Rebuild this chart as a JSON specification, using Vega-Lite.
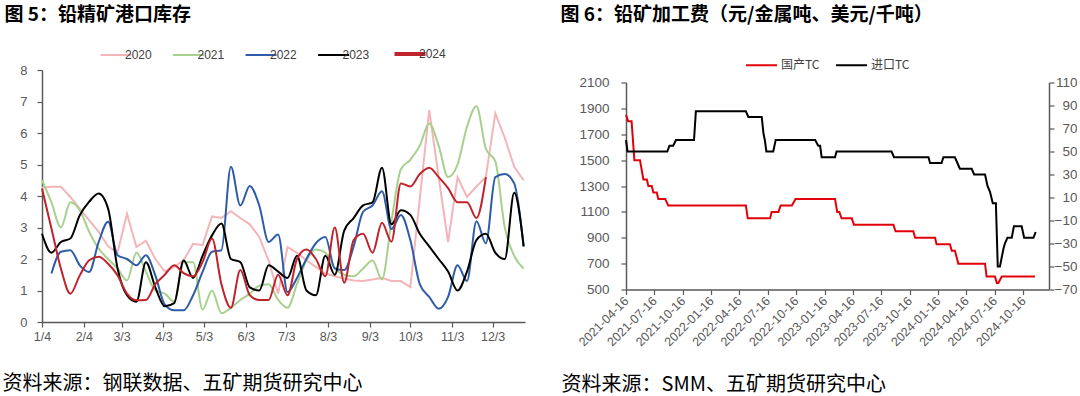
{
  "$schema": "https://vega.github.io/schema/vega-lite/v6.json",
  "padding": {"left": 2, "top": 5, "right": 0, "bottom": 0},
  "spacing": 32,
  "center": true,
  "resolve": {"scale": {"color": "independent"}, "legend": {"color": "independent"}},
  "config": {
    "view": {"stroke": null},
    "font": "Liberation Sans",
    "axis": {
      "grid": false,
      "domainColor": "#595959",
      "tickColor": "#595959",
      "domainWidth": 1.5,
      "tickWidth": 1.2,
      "tickSize": 5,
      "labelColor": "#595959",
      "labelFont": "Liberation Sans",
      "labelFontSize": 12.5,
      "titleFont": "Noto Sans CJK SC",
      "titleColor": "#000000"
    },
    "legend": {
      "labelFont": "Liberation Sans",
      "labelFontSize": 12,
      "labelColor": "#404040",
      "symbolType": "stroke",
      "symbolSize": 961,
      "symbolStrokeWidth": 2,
      "labelOffset": 3,
      "columnPadding": 16.5,
      "padding": 0
    }
  },
  "hconcat": [
    {
      "width": 483,
      "height": 252,
      "data": {
        "values": [
          {"d": "2024-01-04", "2020": 4.26, "2021": 4.5, "2022": null, "2023": 2.8, "2024": 4.24},
          {"d": "2024-01-11", "2020": 4.29, "2021": 3.8, "2022": 1.54, "2023": 2.2, "2024": 2.97},
          {"d": "2024-01-18", "2020": 4.29, "2021": 3.0, "2022": 2.23, "2023": 2.54, "2024": 1.7},
          {"d": "2024-01-25", "2020": 3.97, "2021": 3.8, "2022": 2.28, "2023": 2.65, "2024": 0.9},
          {"d": "2024-02-01", "2020": 3.6, "2021": 3.55, "2022": 1.8, "2023": 3.39, "2024": 1.48},
          {"d": "2024-02-08", "2020": 3.23, "2021": 2.86, "2022": 1.59, "2023": 3.82, "2024": 1.96},
          {"d": "2024-02-15", "2020": 2.86, "2021": 2.33, "2022": 2.54, "2023": 4.08, "2024": 2.07},
          {"d": "2024-02-22", "2020": 2.4, "2021": 2.0, "2022": 3.18, "2023": 3.6, "2024": 1.85},
          {"d": "2024-02-29", "2020": 2.2, "2021": 1.7, "2022": 2.12, "2023": 1.7, "2024": 1.48},
          {"d": "2024-03-07", "2020": 3.44, "2021": 1.32, "2022": 2.0, "2023": 0.85, "2024": 0.9},
          {"d": "2024-03-14", "2020": 2.38, "2021": 2.2, "2022": 1.8, "2023": 0.64, "2024": 0.69},
          {"d": "2024-03-21", "2020": 2.58, "2021": 1.6, "2022": 2.12, "2023": 1.9, "2024": 0.7},
          {"d": "2024-03-28", "2020": 2.0, "2021": 1.0, "2022": 1.48, "2023": 1.1, "2024": 1.2},
          {"d": "2024-04-04", "2020": 1.6, "2021": 0.9, "2022": 0.55, "2023": 0.5, "2024": 1.5},
          {"d": "2024-04-11", "2020": 1.75, "2021": 0.65, "2022": 0.37, "2023": 0.6, "2024": 1.8},
          {"d": "2024-04-18", "2020": 1.96, "2021": 1.9, "2022": 0.37, "2023": 1.95, "2024": 1.55},
          {"d": "2024-04-25", "2020": 2.48, "2021": 1.9, "2022": 0.85, "2023": 1.4, "2024": 1.45},
          {"d": "2024-05-02", "2020": 2.44, "2021": 0.4, "2022": 1.59, "2023": 2.1, "2024": 1.9},
          {"d": "2024-05-09", "2020": 3.35, "2021": 1.0, "2022": 2.23, "2023": 2.75, "2024": 2.65},
          {"d": "2024-05-16", "2020": 3.3, "2021": 0.28, "2022": 2.28, "2023": 3.13, "2024": 1.2},
          {"d": "2024-05-23", "2020": 3.52, "2021": 0.45, "2022": 4.93, "2023": 2.0, "2024": 0.45},
          {"d": "2024-05-30", "2020": 3.3, "2021": 0.7, "2022": 3.7, "2023": 1.9, "2024": 1.65},
          {"d": "2024-06-06", "2020": 3.1, "2021": 0.9, "2022": 4.32, "2023": 1.1, "2024": 0.85},
          {"d": "2024-06-13", "2020": 2.7, "2021": 1.15, "2022": 3.7, "2023": 1.0, "2024": 0.7},
          {"d": "2024-06-20", "2020": 1.95, "2021": 1.2, "2022": 2.54, "2023": 1.8, "2024": 0.7},
          {"d": "2024-06-27", "2020": 0.9, "2021": 0.7, "2022": 2.78, "2023": 1.6, "2024": 1.5},
          {"d": "2024-07-04", "2020": 2.38, "2021": 0.45, "2022": 0.95, "2023": 1.4, "2024": 0.85},
          {"d": "2024-07-11", "2020": 2.2, "2021": 1.2, "2022": 1.4, "2023": 2.1, "2024": 2.0},
          {"d": "2024-07-18", "2020": 1.96, "2021": 1.95, "2022": 2.0, "2023": 1.0, "2024": 2.3},
          {"d": "2024-07-25", "2020": 1.75, "2021": 2.3, "2022": 2.5, "2023": 0.85, "2024": 2.0},
          {"d": "2024-08-01", "2020": 1.54, "2021": 2.2, "2022": 2.7, "2023": 2.1, "2024": 1.45},
          {"d": "2024-08-08", "2020": 1.45, "2021": 1.7, "2022": 1.7, "2023": 1.5, "2024": 3.0},
          {"d": "2024-08-15", "2020": 1.38, "2021": 1.5, "2022": 1.65, "2023": 2.9, "2024": 1.25},
          {"d": "2024-08-22", "2020": 1.32, "2021": 1.45, "2022": 2.4, "2023": 3.3, "2024": 2.6},
          {"d": "2024-08-29", "2020": 1.3, "2021": 1.7, "2022": 3.5, "2023": 3.7, "2024": 2.8},
          {"d": "2024-09-05", "2020": 1.35, "2021": 1.95, "2022": 3.7, "2023": 3.8, "2024": 2.2},
          {"d": "2024-09-12", "2020": 1.4, "2021": 1.35, "2022": 4.15, "2023": 4.9, "2024": 3.15},
          {"d": "2024-09-19", "2020": 1.3, "2021": 3.2, "2022": 2.95, "2023": 3.1, "2024": 2.55},
          {"d": "2024-09-26", "2020": 1.3, "2021": 4.85, "2022": 3.4, "2023": 3.55, "2024": 4.4},
          {"d": "2024-10-03", "2020": 1.11, "2021": 5.15, "2022": 2.6, "2023": 3.4, "2024": 4.3},
          {"d": "2024-10-10", "2020": 3.9, "2021": 5.6, "2022": 1.2, "2023": 2.8, "2024": 4.7},
          {"d": "2024-10-17", "2020": 6.73, "2021": 6.3, "2022": 0.8, "2023": 2.4, "2024": 4.9},
          {"d": "2024-10-24", "2020": 4.6, "2021": 5.6, "2022": 0.42, "2023": 2.0, "2024": 4.6},
          {"d": "2024-10-31", "2020": 2.54, "2021": 4.6, "2022": 0.8, "2023": 1.6, "2024": 4.25},
          {"d": "2024-11-07", "2020": 4.6, "2021": 5.0, "2022": 1.8, "2023": 1.0, "2024": 3.8},
          {"d": "2024-11-14", "2020": 3.97, "2021": 6.2, "2022": 1.3, "2023": 1.6, "2024": 3.8},
          {"d": "2024-11-21", "2020": 4.3, "2021": 6.85, "2022": 3.2, "2023": 2.6, "2024": 3.3},
          {"d": "2024-11-28", "2020": 4.6, "2021": 5.5, "2022": 2.5, "2023": 2.8, "2024": 4.6},
          {"d": "2024-12-05", "2020": 6.62, "2021": 5.1, "2022": 4.6, "2023": 2.2, "2024": null},
          {"d": "2024-12-12", "2020": 5.85, "2021": 3.0, "2022": 4.7, "2023": 2.0, "2024": null},
          {"d": "2024-12-19", "2020": 4.93, "2021": 2.1, "2022": 4.4, "2023": 4.1, "2024": null},
          {"d": "2024-12-26", "2020": 4.5, "2021": 1.7, "2022": 2.4, "2023": 2.4, "2024": null}
        ]
      },
      "transform": [{"fold": ["2020", "2021", "2022", "2023", "2024"], "as": ["year", "v"]}],
      "encoding": {
        "x": {
          "field": "d", "type": "temporal",
          "scale": {"type": "utc", "domain": [{"year": 2024, "month": 1, "date": 4, "utc": true}, {"year": 2024, "month": 12, "date": 27, "utc": true}]},
          "axis": {
            "format": "%-m/%-d",
            "values": [
              {"year": 2024, "month": 1, "date": 4, "utc": true},
              {"year": 2024, "month": 2, "date": 4, "utc": true},
              {"year": 2024, "month": 3, "date": 3, "utc": true},
              {"year": 2024, "month": 4, "date": 3, "utc": true},
              {"year": 2024, "month": 5, "date": 3, "utc": true},
              {"year": 2024, "month": 6, "date": 3, "utc": true},
              {"year": 2024, "month": 7, "date": 3, "utc": true},
              {"year": 2024, "month": 8, "date": 3, "utc": true},
              {"year": 2024, "month": 9, "date": 3, "utc": true},
              {"year": 2024, "month": 10, "date": 3, "utc": true},
              {"year": 2024, "month": 11, "date": 3, "utc": true},
              {"year": 2024, "month": 12, "date": 3, "utc": true}
            ],
            "labelFlush": false,
            "labelOverlap": false,
            "labelPadding": 3,
            "title": ["资料来源：钢联数据、五矿期货研究中心", " "],
            "titleX": -40,
            "titleY": 51,
            "titleAlign": "left",
            "titleBaseline": "top",
            "titleLineHeight": 14,
            "titleAngle": 0,
            "titleFontSize": 20,
            "titleFontWeight": "normal"
          }
        },
        "y": {
          "field": "v", "type": "quantitative",
          "scale": {"domain": [0, 8], "nice": false},
          "axis": {
            "values": [0, 1, 2, 3, 4, 5, 6, 7, 8],
            "labelPadding": 10,
            "labelFontSize": 13,
            "title": "图 5：铅精矿港口库存",
            "titleX": -38,
            "titleY": -56,
            "titleAlign": "left",
            "titleBaseline": "middle",
            "titleAngle": 0,
            "titleFontSize": 19,
            "titleFontWeight": "bold"
          }
        },
        "color": {
          "field": "year", "type": "nominal",
          "scale": {"domain": ["2020", "2021", "2022", "2023", "2024"], "range": ["#f4b5b9", "#a8d08d", "#2e5ca8", "#000000", "#c0232b"]},
          "legend": {
            "title": null, "orient": "none", "direction": "horizontal", "legendX": 68, "legendY": -22,
            "encode": {"symbols": {"update": {"strokeWidth": {"signal": "datum.value === '2024' ? 4 : 2"}}}}
          }
        },
        "strokeWidth": {
          "field": "year", "type": "nominal",
          "scale": {"domain": ["2020", "2021", "2022", "2023", "2024"], "range": [2, 2, 2, 2, 3.5]},
          "legend": null
        }
      },
      "layer": [
        {"transform": [{"filter": "datum.year === '2020'"}], "mark": {"type": "line", "interpolate": "linear"}},
        {"transform": [{"filter": "datum.year !== '2020'"}], "mark": {"type": "line", "interpolate": "monotone"}}
      ]
    },
    {
      "width": 423,
      "height": 207,
      "encoding": {
        "x": {
          "field": "d", "type": "temporal",
          "scale": {"type": "utc", "domain": [{"year": 2021, "month": 4, "date": 16, "utc": true}, {"year": 2025, "month": 1, "date": 7, "utc": true}]},
          "axis": {
            "format": "%Y-%m-%d",
            "values": [
              {"year": 2021, "month": 4, "date": 16, "utc": true},
              {"year": 2021, "month": 7, "date": 16, "utc": true},
              {"year": 2021, "month": 10, "date": 16, "utc": true},
              {"year": 2022, "month": 1, "date": 16, "utc": true},
              {"year": 2022, "month": 4, "date": 16, "utc": true},
              {"year": 2022, "month": 7, "date": 16, "utc": true},
              {"year": 2022, "month": 10, "date": 16, "utc": true},
              {"year": 2023, "month": 1, "date": 16, "utc": true},
              {"year": 2023, "month": 4, "date": 16, "utc": true},
              {"year": 2023, "month": 7, "date": 16, "utc": true},
              {"year": 2023, "month": 10, "date": 16, "utc": true},
              {"year": 2024, "month": 1, "date": 16, "utc": true},
              {"year": 2024, "month": 4, "date": 16, "utc": true},
              {"year": 2024, "month": 7, "date": 16, "utc": true},
              {"year": 2024, "month": 10, "date": 16, "utc": true}
            ],
            "labelAngle": -45,
            "labelAlign": "right",
            "labelBaseline": "middle",
            "labelFlush": false,
            "labelOverlap": false,
            "labelPadding": 4,
            "labelFontSize": 12.5,
            "title": "资料来源：SMM、五矿期货研究中心",
            "titleX": -65,
            "titleY": 95,
            "titleAlign": "left",
            "titleBaseline": "middle",
            "titleAngle": 0,
            "titleFontSize": 20,
            "titleFontWeight": "normal"
          }
        },
        "color": {
          "field": "s", "type": "nominal",
          "scale": {"domain": ["国产TC", "进口TC"], "range": ["#e3000b", "#000000"]},
          "legend": {"title": null, "orient": "none", "direction": "horizontal", "legendX": 119, "legendY": -34, "labelFont": "Noto Sans CJK SC", "columnPadding": 12}
        }
      },
      "layer": [
        {
          "data": {
            "values": [
              {"d": "2021-04-16", "s": "国产TC", "v": 1850},
              {"d": "2021-04-23", "s": "国产TC", "v": 1800},
              {"d": "2021-05-04", "s": "国产TC", "v": 1800},
              {"d": "2021-05-13", "s": "国产TC", "v": 1500},
              {"d": "2021-05-31", "s": "国产TC", "v": 1500},
              {"d": "2021-06-11", "s": "国产TC", "v": 1350},
              {"d": "2021-06-22", "s": "国产TC", "v": 1350},
              {"d": "2021-06-27", "s": "国产TC", "v": 1300},
              {"d": "2021-07-08", "s": "国产TC", "v": 1300},
              {"d": "2021-07-13", "s": "国产TC", "v": 1250},
              {"d": "2021-07-24", "s": "国产TC", "v": 1250},
              {"d": "2021-07-29", "s": "国产TC", "v": 1200},
              {"d": "2021-08-20", "s": "国产TC", "v": 1200},
              {"d": "2021-08-30", "s": "国产TC", "v": 1150},
              {"d": "2022-05-07", "s": "国产TC", "v": 1150},
              {"d": "2022-05-13", "s": "国产TC", "v": 1050},
              {"d": "2022-07-24", "s": "国产TC", "v": 1050},
              {"d": "2022-07-29", "s": "国产TC", "v": 1100},
              {"d": "2022-08-20", "s": "国产TC", "v": 1100},
              {"d": "2022-08-27", "s": "国产TC", "v": 1150},
              {"d": "2022-10-02", "s": "国产TC", "v": 1150},
              {"d": "2022-10-14", "s": "国产TC", "v": 1200},
              {"d": "2023-02-18", "s": "国产TC", "v": 1200},
              {"d": "2023-02-25", "s": "国产TC", "v": 1100},
              {"d": "2023-03-04", "s": "国产TC", "v": 1100},
              {"d": "2023-03-11", "s": "国产TC", "v": 1050},
              {"d": "2023-04-13", "s": "国产TC", "v": 1050},
              {"d": "2023-04-20", "s": "国产TC", "v": 1000},
              {"d": "2023-08-25", "s": "国产TC", "v": 1000},
              {"d": "2023-09-01", "s": "国产TC", "v": 950},
              {"d": "2023-10-28", "s": "国产TC", "v": 950},
              {"d": "2023-11-03", "s": "国产TC", "v": 900},
              {"d": "2024-01-06", "s": "国产TC", "v": 900},
              {"d": "2024-01-11", "s": "国产TC", "v": 850},
              {"d": "2024-02-23", "s": "国产TC", "v": 850},
              {"d": "2024-02-29", "s": "国产TC", "v": 800},
              {"d": "2024-03-10", "s": "国产TC", "v": 800},
              {"d": "2024-03-21", "s": "国产TC", "v": 700},
              {"d": "2024-06-15", "s": "国产TC", "v": 700},
              {"d": "2024-06-20", "s": "国产TC", "v": 600},
              {"d": "2024-07-17", "s": "国产TC", "v": 600},
              {"d": "2024-07-23", "s": "国产TC", "v": 550},
              {"d": "2024-07-28", "s": "国产TC", "v": 550},
              {"d": "2024-08-08", "s": "国产TC", "v": 600},
              {"d": "2024-11-23", "s": "国产TC", "v": 600}
            ]
          },
          "mark": {"type": "line", "strokeWidth": 2},
          "encoding": {
            "y": {
              "field": "v", "type": "quantitative",
              "scale": {"domain": [500, 2100], "nice": false},
              "axis": {
                "values": [500, 700, 900, 1100, 1300, 1500, 1700, 1900, 2100],
                "format": "d",
                "labelPadding": 12,
                "labelFontSize": 13.5,
                "title": "图 6：铅矿加工费（元/金属吨、美元/千吨）",
                "titleX": -66,
                "titleY": -68,
                "titleAlign": "left",
                "titleBaseline": "middle",
                "titleAngle": 0,
                "titleFontSize": 19,
                "titleFontWeight": "bold"
              }
            }
          }
        },
        {
          "data": {
            "values": [
              {"d": "2021-04-16", "s": "进口TC", "v": 60},
              {"d": "2021-04-21", "s": "进口TC", "v": 50},
              {"d": "2021-08-27", "s": "进口TC", "v": 50},
              {"d": "2021-09-03", "s": "进口TC", "v": 55},
              {"d": "2021-09-15", "s": "进口TC", "v": 55},
              {"d": "2021-09-24", "s": "进口TC", "v": 60},
              {"d": "2021-11-21", "s": "进口TC", "v": 60},
              {"d": "2021-11-27", "s": "进口TC", "v": 85},
              {"d": "2022-05-07", "s": "进口TC", "v": 85},
              {"d": "2022-05-15", "s": "进口TC", "v": 80},
              {"d": "2022-06-27", "s": "进口TC", "v": 80},
              {"d": "2022-07-03", "s": "进口TC", "v": 65},
              {"d": "2022-07-07", "s": "进口TC", "v": 60},
              {"d": "2022-07-12", "s": "进口TC", "v": 50},
              {"d": "2022-08-03", "s": "进口TC", "v": 50},
              {"d": "2022-08-11", "s": "进口TC", "v": 60},
              {"d": "2022-12-16", "s": "进口TC", "v": 60},
              {"d": "2022-12-26", "s": "进口TC", "v": 55},
              {"d": "2023-01-01", "s": "进口TC", "v": 55},
              {"d": "2023-01-06", "s": "进口TC", "v": 45},
              {"d": "2023-02-18", "s": "进口TC", "v": 45},
              {"d": "2023-02-23", "s": "进口TC", "v": 50},
              {"d": "2023-08-19", "s": "进口TC", "v": 50},
              {"d": "2023-08-27", "s": "进口TC", "v": 45},
              {"d": "2023-12-16", "s": "进口TC", "v": 45},
              {"d": "2023-12-21", "s": "进口TC", "v": 40},
              {"d": "2024-01-27", "s": "进口TC", "v": 40},
              {"d": "2024-02-02", "s": "进口TC", "v": 45},
              {"d": "2024-03-10", "s": "进口TC", "v": 45},
              {"d": "2024-03-18", "s": "进口TC", "v": 40},
              {"d": "2024-03-26", "s": "进口TC", "v": 35},
              {"d": "2024-05-03", "s": "进口TC", "v": 35},
              {"d": "2024-05-11", "s": "进口TC", "v": 30},
              {"d": "2024-06-15", "s": "进口TC", "v": 30},
              {"d": "2024-06-23", "s": "进口TC", "v": 20},
              {"d": "2024-07-01", "s": "进口TC", "v": 15},
              {"d": "2024-07-10", "s": "进口TC", "v": 5},
              {"d": "2024-07-20", "s": "进口TC", "v": 5},
              {"d": "2024-07-26", "s": "进口TC", "v": -50},
              {"d": "2024-08-02", "s": "进口TC", "v": -50},
              {"d": "2024-08-13", "s": "进口TC", "v": -35},
              {"d": "2024-08-18", "s": "进口TC", "v": -30},
              {"d": "2024-08-26", "s": "进口TC", "v": -25},
              {"d": "2024-09-09", "s": "进口TC", "v": -25},
              {"d": "2024-09-16", "s": "进口TC", "v": -15},
              {"d": "2024-10-11", "s": "进口TC", "v": -15},
              {"d": "2024-10-19", "s": "进口TC", "v": -25},
              {"d": "2024-11-18", "s": "进口TC", "v": -25},
              {"d": "2024-11-25", "s": "进口TC", "v": -20}
            ]
          },
          "mark": {"type": "line", "strokeWidth": 2},
          "encoding": {
            "y": {
              "field": "v", "type": "quantitative",
              "scale": {"domain": [-70, 110], "nice": false},
              "axis": {
                "orient": "right",
                "values": [-70, -50, -30, -10, 10, 30, 50, 70, 90, 110],
                "labelAlign": "right",
                "labelPadding": 23,
                "labelFontSize": 13.5,
                "title": null
              }
            }
          }
        }
      ],
      "resolve": {"scale": {"y": "independent"}}
    }
  ]
}
